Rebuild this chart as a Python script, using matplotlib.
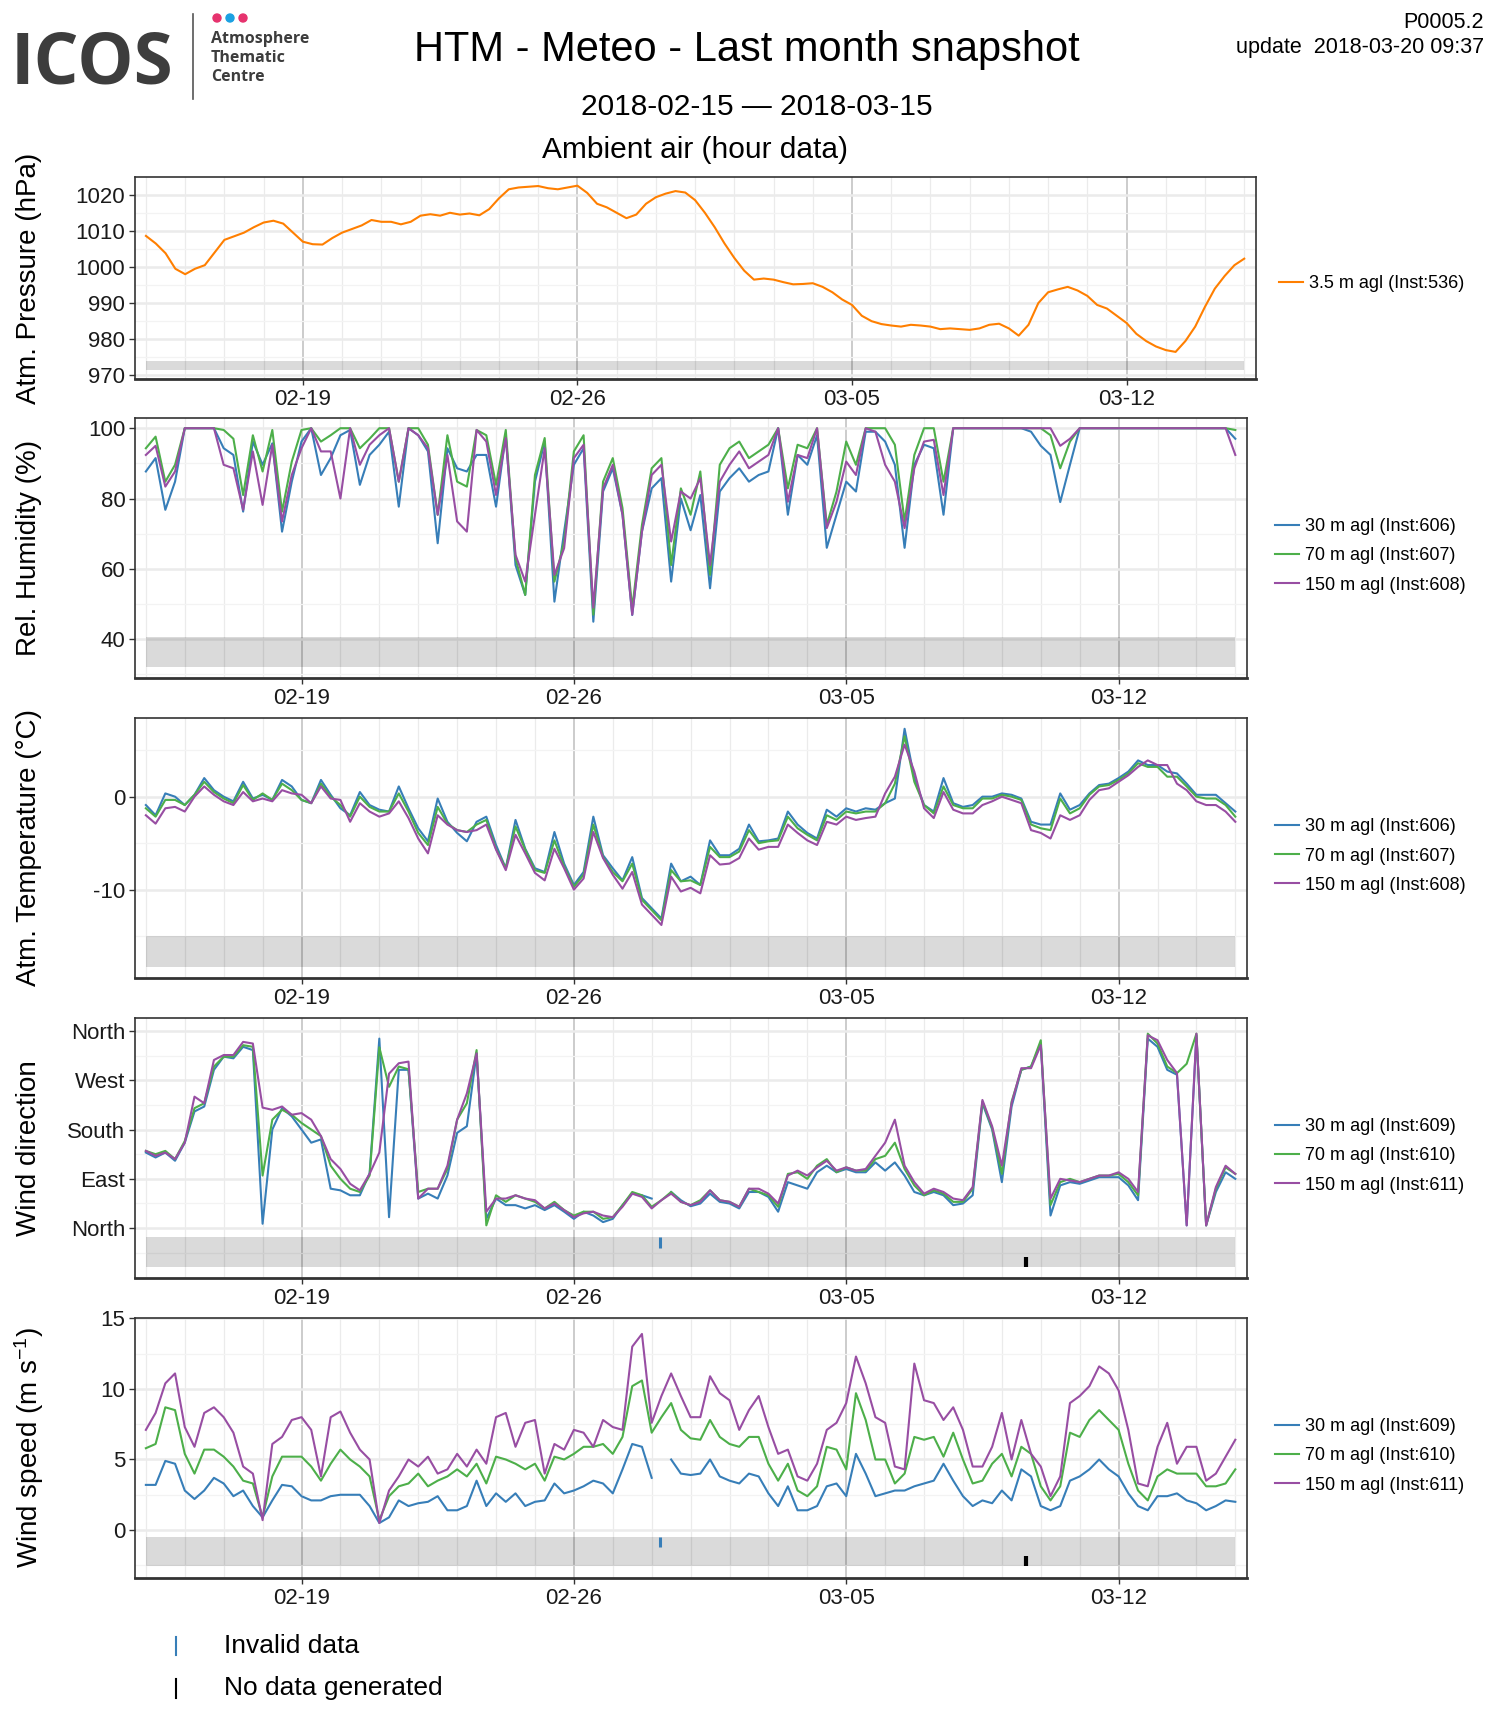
import numpy as np
import pandas as pd
import matplotlib
matplotlib.use('Agg')
import matplotlib.pyplot as plt
import matplotlib.dates as mdates
from matplotlib.patches import Ellipse
from matplotlib.lines import Line2D

plt.rcParams['font.family'] = ['Liberation Sans', 'DejaVu Sans']
plt.rcParams['mathtext.default'] = 'regular'
plt.rcParams['axes.unicode_minus'] = False

# valeurs lues sur le graphique, pas de 6 h, 2018-02-15 00:00 -> 2018-03-15 00:00
temps = pd.date_range('2018-02-15', periods=113, freq='6h')

pression = [
    1008.6, 1006.5, 1003.8, 999.5, 998.0, 999.5, 1000.5, 1004.0,
    1007.5, 1008.5, 1009.5, 1011.0, 1012.3, 1012.8, 1012.0, 1009.5,
    1007.0, 1006.3, 1006.2, 1008.0, 1009.5, 1010.5, 1011.5, 1013.0,
    1012.5, 1012.5, 1011.8, 1012.5, 1014.2, 1014.6, 1014.2, 1015.0,
    1014.5, 1014.8, 1014.3, 1016.0, 1019.0, 1021.5, 1022.0, 1022.2,
    1022.4, 1021.8, 1021.5, 1022.0, 1022.5, 1020.5, 1017.5, 1016.5,
    1015.0, 1013.5, 1014.5, 1017.5, 1019.3, 1020.3, 1021.0, 1020.6,
    1018.5, 1015.0, 1011.0, 1006.5, 1002.5, 999.0, 996.5, 996.8,
    996.5, 995.8, 995.2, 995.3, 995.5, 994.5, 993.0, 991.0,
    989.5, 986.5, 985.0, 984.2, 983.8, 983.5, 984.0, 983.8,
    983.5, 982.8, 983.0, 982.8, 982.6, 983.0, 984.0, 984.3,
    983.0, 981.0, 984.0, 990.0, 993.0, 993.8, 994.5, 993.5,
    992.0, 989.5, 988.5, 986.5, 984.5, 981.5, 979.5, 978.0,
    977.0, 976.5, 979.5, 983.5, 989.0, 994.0, 997.5, 1000.5,
    1002.3]

hum_30 = [
    87.7, 91.5, 76.8, 84.8, 100, 100, 100, 100,
    94.3, 92.4, 76.3, 96.2, 89.6, 95.7, 70.6, 84.8,
    96.2, 100, 86.7, 91.5, 98.0, 99.5, 83.9, 92.4,
    95.3, 99.0, 77.7, 100, 98.0, 93.4, 67.3, 94.3,
    88.6, 87.7, 92.4, 92.4, 77.7, 98.0, 61.1, 52.6,
    84.8, 96.2, 50.7, 70.6, 89.6, 94.3, 45.0, 82.0,
    88.6, 75.4, 46.9, 70.6, 82.9, 85.8, 56.4, 80.0,
    71.0, 81.0, 54.5, 82.0, 85.8, 88.6, 84.8, 86.7,
    87.7, 100, 75.4, 92.4, 89.6, 98.0, 66.0, 75.4,
    84.8, 82.0, 99.0, 99.0, 96.2, 89.6, 66.0, 89.6,
    95.3, 94.3, 75.4, 100, 100, 100, 100, 100,
    100, 100, 100, 99.0, 95.0, 92.4, 79.0, 89.6,
    100, 100, 100, 100, 100, 100, 100, 100,
    100, 100, 100, 100, 100, 100, 100, 100,
    97.0]
hum_70 = [
    94.3, 97.6, 84.8, 89.6, 100, 100, 100, 100,
    99.5, 97.0, 81.0, 98.0, 87.7, 99.5, 76.3, 90.5,
    99.5, 100, 96.2, 98.0, 100, 100, 94.3, 97.0,
    100, 100, 84.8, 100, 100, 95.3, 75.4, 98.0,
    84.8, 83.4, 99.5, 98.0, 83.9, 99.5, 63.0, 52.6,
    86.7, 97.2, 56.4, 67.8, 93.4, 98.0, 47.0, 84.8,
    91.5, 77.3, 48.8, 72.5, 88.6, 91.5, 61.1, 82.9,
    75.4, 87.7, 58.3, 89.6, 94.3, 96.2, 91.5, 93.4,
    95.3, 100, 82.9, 95.3, 94.3, 100, 72.5, 82.0,
    96.2, 89.6, 100, 100, 100, 95.3, 73.5, 92.4,
    100, 100, 84.8, 100, 100, 100, 100, 100,
    100, 100, 100, 100, 100, 98.0, 88.6, 96.2,
    100, 100, 100, 100, 100, 100, 100, 100,
    100, 100, 100, 100, 100, 100, 100, 100,
    99.5]
hum_150 = [
    92.4, 95.0, 83.4, 87.7, 100, 100, 100, 100,
    89.6, 88.6, 76.8, 93.4, 78.2, 95.3, 73.5, 86.7,
    94.3, 100, 93.4, 93.4, 80.0, 100, 89.6, 95.3,
    98.0, 100, 84.8, 100, 98.0, 94.3, 75.4, 92.4,
    73.5, 70.6, 99.5, 96.2, 81.0, 97.2, 64.0, 56.4,
    75.4, 94.3, 58.3, 65.9, 91.5, 95.3, 49.0, 82.9,
    89.6, 75.4, 47.0, 70.6, 86.7, 89.6, 67.8, 82.0,
    80.0, 85.8, 61.1, 84.8, 89.6, 93.4, 88.6, 90.5,
    92.4, 100, 79.1, 92.4, 91.5, 100, 71.6, 79.1,
    90.5, 86.7, 100, 99.0, 89.6, 84.8, 71.6, 88.6,
    96.2, 96.7, 81.0, 100, 100, 100, 100, 100,
    100, 100, 100, 100, 100, 100, 95.0, 97.0,
    100, 100, 100, 100, 100, 100, 100, 100,
    100, 100, 100, 100, 100, 100, 100, 100,
    92.4]

temp_30 = [
    -0.9, -2.0, 0.35, 0.0, -0.9, 0.2, 2.0, 0.7,
    0.0, -0.5, 1.6, -0.2, 0.2, -0.35, 1.8, 1.1,
    -0.35, -0.7, 1.8, 0.2, -1.25, -2.0, 0.5, -0.9,
    -1.4, -1.6, 1.1, -1.25, -3.4, -4.8, -0.2, -2.7,
    -3.9, -4.8, -2.7, -2.15, -5.2, -7.7, -2.5, -5.6,
    -7.7, -8.1, -3.8, -7.2, -9.5, -8.1, -2.15, -6.3,
    -7.7, -9.0, -6.5, -10.9, -12.0, -13.1, -7.2, -9.1,
    -8.6, -9.5, -4.7, -6.3, -6.3, -5.6, -3.0, -4.8,
    -4.7, -4.5, -1.6, -3.0, -3.9, -4.5, -1.4, -2.15,
    -1.25, -1.6, -1.25, -1.4, -0.7, -0.2, 7.3, 2.0,
    -0.9, -1.6, 2.0, -0.7, -1.1, -0.9, 0.0, 0.0,
    0.35, 0.2, -0.2, -2.7, -3.0, -3.0, 0.35, -1.4,
    -0.9, 0.35, 1.25, 1.4, 2.0, 2.7, 3.9, 3.4,
    3.4, 2.7, 2.5, 1.4, 0.2, 0.2, 0.2, -0.7,
    -1.6]
temp_70 = [
    -1.25, -2.15, -0.35, -0.35, -0.9, 0.2, 1.6, 0.5,
    -0.2, -0.7, 1.25, -0.35, 0.35, -0.35, 1.4, 0.7,
    -0.35, -0.7, 1.4, 0.0, -0.9, -2.15, 0.0, -1.1,
    -1.6, -1.6, 0.35, -1.6, -3.9, -5.2, -1.1, -2.9,
    -3.6, -3.8, -3.0, -2.5, -5.6, -7.7, -3.2, -5.7,
    -7.9, -8.2, -4.7, -7.5, -9.7, -8.4, -3.0, -6.5,
    -8.1, -9.1, -7.2, -11.1, -12.2, -13.3, -7.9, -9.1,
    -9.0, -9.5, -5.4, -6.5, -6.5, -5.9, -3.6, -5.0,
    -4.8, -4.7, -2.15, -3.4, -4.1, -4.7, -2.0, -2.5,
    -1.6, -1.8, -1.6, -1.6, -0.7, 1.4, 6.5, 1.6,
    -0.9, -1.8, 1.1, -0.9, -1.25, -1.25, -0.2, -0.2,
    0.2, 0.0, -0.35, -3.0, -3.4, -3.6, -0.2, -1.8,
    -1.25, 0.2, 1.1, 1.25, 1.8, 2.5, 3.6, 3.2,
    3.2, 2.15, 2.15, 1.1, 0.0, -0.2, -0.2, -0.9,
    -2.15]
temp_150 = [
    -2.0, -2.9, -1.25, -1.1, -1.6, 0.0, 1.1, 0.2,
    -0.5, -0.9, 0.5, -0.5, -0.2, -0.5, 0.7, 0.35,
    0.2, -0.7, 1.1, -0.2, -0.35, -2.7, -0.7, -1.6,
    -2.15, -1.8, -0.5, -2.3, -4.5, -6.1, -2.0, -3.0,
    -3.6, -3.8, -3.6, -3.0, -5.7, -7.9, -4.1, -6.1,
    -8.2, -9.0, -5.6, -7.7, -10.0, -8.8, -3.8, -6.6,
    -8.4, -9.9, -8.1, -11.6, -12.7, -13.8, -8.6, -10.2,
    -9.8, -10.4, -6.3, -7.3, -7.2, -6.6, -4.5, -5.7,
    -5.4, -5.4, -3.0, -3.9, -4.7, -5.2, -2.7, -3.0,
    -2.15, -2.5, -2.3, -2.15, 0.35, 2.15, 5.6, 2.7,
    -1.25, -2.3, 0.5, -1.4, -1.8, -1.8, -0.9, -0.5,
    0.0, -0.35, -0.7, -3.6, -3.9, -4.5, -2.0, -2.5,
    -2.0, -0.35, 0.7, 0.9, 1.6, 2.3, 3.2, 3.9,
    3.4, 3.4, 1.4, 0.7, -0.5, -0.9, -0.9, -1.6,
    -2.7]

dir_30 = [
    138, 129, 138, 123, 156, 213, 222, 289,
    313, 310, 331, 325, 8, 180, 219, 204,
    180, 156, 162, 72, 69, 60, 60, 100,
    346, 20, 289, 289, 54, 63, 54, 96,
    174, 186, 319, 17, 54, 42, 42, 36,
    42, 33, 42, 30, 17, 30, 23, 11,
    17, 42, 63, 60, 54, np.nan, 66, 51,
    40, 45, 63, 48, 45, 36, 66, 66,
    57, 30, 84, 78, 72, 102, 114, 102,
    108, 102, 102, 120, 105, 120, 96, 66,
    60, 66, 60, 42, 45, 60, 228, 180,
    84, 222, 289, 295, 337, 23, 78, 84,
    81, 87, 93, 93, 93, 78, 51, 346,
    331, 289, 280, 5, 352, 5, 66, 102,
    90]
dir_70 = [
    141, 135, 141, 126, 159, 219, 228, 295,
    313, 313, 334, 331, 96, 198, 216, 207,
    192, 180, 168, 114, 90, 72, 66, 96,
    330, 258, 295, 290, 66, 72, 72, 108,
    198, 228, 325, 5, 60, 48, 60, 54,
    48, 36, 48, 33, 23, 30, 30, 17,
    20, 42, 66, 60, 39, 51, 66, 48,
    42, 51, 69, 51, 48, 39, 72, 66,
    60, 39, 99, 102, 90, 114, 126, 102,
    111, 105, 105, 126, 132, 156, 108, 78,
    60, 69, 63, 48, 48, 72, 231, 183,
    99, 231, 289, 295, 343, 42, 84, 90,
    84, 90, 96, 96, 99, 84, 60, 355,
    337, 295, 283, 300, 355, 5, 72, 111,
    99]
dir_150 = [
    141, 132, 138, 126, 156, 240, 228, 307,
    316, 316, 340, 337, 220, 216, 222, 207,
    210, 198, 168, 126, 108, 81, 69, 99,
    138, 282, 301, 304, 54, 72, 72, 114,
    198, 246, 319, 30, 54, 54, 60, 54,
    51, 36, 45, 33, 20, 27, 30, 23,
    20, 39, 63, 57, 36, 51, 63, 48,
    42, 48, 69, 51, 48, 39, 72, 72,
    63, 45, 96, 105, 96, 111, 123, 105,
    111, 105, 108, 132, 156, 198, 114, 84,
    63, 72, 66, 54, 51, 75, 234, 186,
    114, 228, 292, 292, 334, 54, 90, 87,
    84, 90, 96, 96, 102, 90, 66, 352,
    343, 307, 283, 5, 355, 5, 75, 114,
    99]

vent_30 = [
    3.2, 3.2, 4.9, 4.7, 2.8, 2.2, 2.8, 3.7,
    3.3, 2.4, 2.8, 1.7, 0.9, 2.1, 3.2, 3.1,
    2.4, 2.1, 2.1, 2.4, 2.5, 2.5, 2.5, 1.7,
    0.5, 0.9, 2.1, 1.7, 1.9, 2.0, 2.4, 1.4,
    1.4, 1.7, 3.5, 1.7, 2.6, 2.0, 2.6, 1.7,
    2.0, 2.1, 3.3, 2.6, 2.8, 3.1, 3.5, 3.3,
    2.6, 4.3, 6.1, 5.9, 3.7, np.nan, 5.0, 4.0,
    3.9, 4.0, 5.0, 3.8, 3.5, 3.3, 4.0, 3.8,
    2.6, 1.7, 3.1, 1.4, 1.4, 1.7, 3.1, 3.3,
    2.4, 5.4, 4.0, 2.4, 2.6, 2.8, 2.8, 3.1,
    3.3, 3.5, 4.7, 3.5, 2.4, 1.7, 2.1, 1.9,
    2.8, 2.1, 4.3, 3.8, 1.7, 1.4, 1.7, 3.5,
    3.8, 4.3, 5.0, 4.3, 3.8, 2.6, 1.7, 1.4,
    2.4, 2.4, 2.6, 2.1, 1.9, 1.4, 1.7, 2.1,
    2.0]
vent_70 = [
    5.8, 6.1, 8.7, 8.5, 5.4, 4.0, 5.7, 5.7,
    5.2, 4.5, 3.5, 3.3, 0.9, 3.8, 5.2, 5.2,
    5.2, 4.5, 3.5, 4.7, 5.7, 5.0, 4.5, 3.8,
    0.7, 2.4, 3.1, 3.3, 4.0, 3.1, 3.5, 3.8,
    4.3, 3.8, 4.7, 3.3, 5.2, 5.0, 4.7, 4.3,
    4.7, 3.5, 5.2, 5.0, 5.4, 5.9, 5.9, 6.1,
    5.4, 6.6, 10.2, 10.6, 6.9, 8.0, 9.0, 7.1,
    6.5, 6.4, 7.8, 6.6, 6.1, 5.9, 6.6, 6.6,
    4.7, 3.5, 4.7, 2.8, 2.4, 3.1, 5.9, 5.7,
    4.3, 9.7, 7.8, 5.0, 5.0, 3.3, 4.0, 6.6,
    6.4, 6.6, 5.2, 6.9, 5.0, 3.3, 3.5, 4.7,
    5.4, 3.8, 5.9, 5.4, 3.1, 2.1, 3.1, 6.9,
    6.6, 7.8, 8.5, 7.8, 7.1, 4.7, 2.8, 2.1,
    3.8, 4.3, 4.0, 4.0, 4.0, 3.1, 3.1, 3.3,
    4.3]
vent_150 = [
    7.1, 8.3, 10.4, 11.1, 7.3, 5.9, 8.3, 8.7,
    8.0, 6.9, 4.5, 4.0, 0.7, 6.1, 6.6, 7.8,
    8.0, 7.1, 3.8, 8.0, 8.4, 6.9, 5.7, 5.0,
    0.5, 2.8, 3.8, 5.0, 4.5, 5.2, 4.0, 4.3,
    5.4, 4.5, 5.7, 4.7, 8.0, 8.3, 5.9, 7.6,
    7.8, 4.0, 6.1, 5.7, 7.1, 6.9, 5.9, 7.8,
    7.3, 7.1, 13.0, 13.9, 7.6, 9.5, 11.1, 9.5,
    8.0, 8.0, 10.9, 9.7, 9.2, 7.1, 8.5, 9.5,
    7.3, 5.4, 5.7, 3.8, 3.5, 4.7, 7.1, 7.6,
    9.0, 12.3, 10.4, 8.0, 7.6, 4.5, 4.3, 11.8,
    9.2, 9.0, 7.8, 8.7, 7.1, 4.5, 4.5, 5.9,
    8.3, 5.0, 7.8, 5.4, 4.5, 2.4, 3.8, 9.0,
    9.5, 10.2, 11.6, 11.1, 9.9, 7.1, 3.3, 3.1,
    5.9, 7.6, 4.7, 5.9, 5.9, 3.5, 4.0, 5.2,
    6.4]

t_invalide = pd.Timestamp('2018-02-28 05:00')
t_sans_donnee = pd.Timestamp('2018-03-09 15:00')

c_orange = '#FF7F00'
c_bleu = '#377EB8'
c_vert = '#4DAF4A'
c_violet = '#984EA3'

W, H = 1495, 1714
fig = plt.figure(figsize=(W / 100, H / 100), dpi=100)

t_min = pd.Timestamp('2018-02-15') - pd.Timedelta(hours=6.7)
t_max = pd.Timestamp('2018-03-15') + pd.Timedelta(hours=7.2)


def panneau(gauche, haut, droite, bas, ylim, majeurs, etiquettes, mineurs, bande, ylabel):
    ax = fig.add_axes([gauche / W, 1 - bas / H, (droite - gauche) / W, (bas - haut) / H])
    ax.set_xlim(t_min, t_max)
    ax.set_ylim(*ylim)
    ax.fill_between([temps[0], temps[-1]], bande[0], bande[1], color='black',
                    alpha=0.145, lw=0, zorder=1)
    ax.xaxis.set_major_locator(mdates.WeekdayLocator(byweekday=mdates.MO))
    ax.xaxis.set_minor_locator(mdates.DayLocator())
    ax.xaxis.set_major_formatter(mdates.DateFormatter('%m-%d'))
    ax.set_yticks(majeurs)
    ax.set_yticklabels(etiquettes)
    ax.set_yticks(mineurs, minor=True)
    ax.set_axisbelow(True)
    ax.grid(axis='x', which='major', color='#BEBEBE', lw=1.1)
    ax.grid(axis='x', which='minor', color='#EBEBEB', lw=0.9)
    ax.grid(axis='y', which='major', color='#EBEBEB', lw=1.8)
    ax.grid(axis='y', which='minor', color='#F3F3F3', lw=0.9)
    ax.tick_params(which='major', length=4, width=1, color='#333333',
                   labelsize=16, labelcolor='#1a1a1a', pad=3)
    ax.tick_params(which='minor', length=0)
    for s in ax.spines.values():
        s.set_color('#333333')
        s.set_linewidth(1.2)
    ax.spines['bottom'].set_linewidth(2)
    ax.set_ylabel(ylabel, fontsize=20, va='center')
    ax.yaxis.set_label_coords((29 - gauche) / (droite - gauche), 0.5)
    return ax


def legende(ax, x, y):
    ax.legend(loc='center left', bbox_to_anchor=(x, y), frameon=False, fontsize=13,
              handlelength=1.35, handletextpad=0.3, labelspacing=0.68,
              borderpad=0, borderaxespad=0)


def marqueurs(ax, bande):
    bas, haut = bande
    h = haut - bas
    ax.vlines(t_invalide, haut - 0.36 * h, haut, color=c_bleu, lw=2.2, zorder=3)
    ax.vlines(t_sans_donnee, bas, bas + 0.34 * h, color='black', lw=3, zorder=3)


# Pression
ax1 = panneau(135, 177, 1256, 379, (969.0, 1024.9), [970, 980, 990, 1000, 1010, 1020],
              ['970', '980', '990', '1000', '1010', '1020'], [975, 985, 995, 1005, 1015],
              (971.4, 973.9), 'Atm. Pressure (hPa)')
ax1.plot(temps, pression, color=c_orange, lw=1.5, label='3.5 m agl (Inst:536)')
ax1.set_title('Ambient air (hour data)', fontsize=21.5, pad=14)
legende(ax1, 1 + 23 / 1121, 0.5 - 6 / 202)

# Humidite
ax2 = panneau(135, 418, 1247, 678, (29.0, 102.9), [40, 60, 80, 100],
              ['40', '60', '80', '100'], [30, 50, 70, 90], (32.2, 40.6), 'Rel. Humidity (%)')
ax2.plot(temps, hum_30, color=c_bleu, lw=1.5, label='30 m agl (Inst:606)')
ax2.plot(temps, hum_70, color=c_vert, lw=1.5, label='70 m agl (Inst:607)')
ax2.plot(temps, hum_150, color=c_violet, lw=1.5, label='150 m agl (Inst:608)')
legende(ax2, 1 + 28 / 1112, 0.5 - 8 / 260)

# Temperature
ax3 = panneau(135, 718, 1247, 978, (-19.5, 8.46), [-10, 0], ['-10', '0'],
              [-15, -5, 5], (-18.3, -15.0), 'Atm. Temperature (°C)')
ax3.plot(temps, temp_30, color=c_bleu, lw=1.5, label='30 m agl (Inst:606)')
ax3.plot(temps, temp_70, color=c_vert, lw=1.5, label='70 m agl (Inst:607)')
ax3.plot(temps, temp_150, color=c_violet, lw=1.5, label='150 m agl (Inst:608)')
legende(ax3, 1 + 28 / 1112, 0.5 - 8 / 260)

# Direction du vent
bande4 = (-70.5, -16.8)
ax4 = panneau(135, 1018, 1247, 1278, (-91, 383.6), [0, 90, 180, 270, 360],
              ['North', 'East', 'South', 'West', 'North'], [-45, 45, 135, 225, 315],
              bande4, 'Wind direction')
ax4.plot(temps, dir_30, color=c_bleu, lw=1.5, label='30 m agl (Inst:609)')
ax4.plot(temps, dir_70, color=c_vert, lw=1.5, label='70 m agl (Inst:610)')
ax4.plot(temps, dir_150, color=c_violet, lw=1.5, label='150 m agl (Inst:611)')
marqueurs(ax4, bande4)
legende(ax4, 1 + 28 / 1112, 0.5 - 8 / 260)

# Vitesse du vent
bande5 = (-2.55, -0.47)
ax5 = panneau(135, 1318, 1247, 1578, (-3.4, 15.03), [0, 5, 10, 15],
              ['0', '5', '10', '15'], [-2.5, 2.5, 7.5, 12.5], bande5,
              'Wind speed (m s$^{-1}$)')
ax5.plot(temps, vent_30, color=c_bleu, lw=1.5, label='30 m agl (Inst:609)')
ax5.plot(temps, vent_70, color=c_vert, lw=1.5, label='70 m agl (Inst:610)')
ax5.plot(temps, vent_150, color=c_violet, lw=1.5, label='150 m agl (Inst:611)')
marqueurs(ax5, bande5)
legende(ax5, 1 + 28 / 1112, 0.5 - 8 / 260)

# En-tete
fig.text(747 / W, 1 - 61 / H, 'HTM - Meteo - Last month snapshot', ha='center',
         va='baseline', fontsize=30)
fig.text(757 / W, 1 - 115 / H, '2018-02-15 \u2014 2018-03-15', ha='center',
         va='baseline', fontsize=21.5)
fig.text(1484 / W, 1 - 28 / H, 'P0005.2', ha='right', va='baseline', fontsize=15.5)
fig.text(1484 / W, 1 - 53 / H, 'update  2018-03-20 09:37', ha='right', va='baseline',
         fontsize=15.5)

# Logo ICOS
gris_logo = '#3d3d3d'
fig.text(11 / W, 1 - 83 / H, 'ICOS', fontsize=51, fontweight='bold',
         family=['Open Sans', 'DejaVu Sans'], color=gris_logo, va='baseline')
fig.add_artist(Line2D([193 / W, 193 / W], [1 - 14 / H, 1 - 99 / H], color='#555555', lw=1.2))
for i, txt in enumerate(['Atmosphere', 'Thematic', 'Centre']):
    fig.text(211 / W, 1 - (43 + 19.2 * i) / H, txt, fontsize=11.5, fontweight='bold',
             family=['Open Sans', 'DejaVu Sans'], color=gris_logo, va='baseline')
for x, c in zip([217, 230, 243], ['#E6336E', '#1BA1E2', '#E6336E']):
    fig.add_artist(Ellipse((x / W, 1 - 18 / H), 8 / W, 8 / H, transform=fig.transFigure,
                           color=c))

# Legende du bas
fig.add_artist(Line2D([176 / W, 176 / W], [1 - 1637 / H, 1 - 1655 / H], color=c_bleu, lw=1.5))
fig.text(224 / W, 1 - 1646 / H, 'Invalid data', va='center', fontsize=19)
fig.add_artist(Line2D([176 / W, 176 / W], [1 - 1679 / H, 1 - 1698 / H], color='black', lw=1.5))
fig.text(224 / W, 1 - 1688 / H, 'No data generated', va='center', fontsize=19)

fig.savefig('out.png', dpi=100)
